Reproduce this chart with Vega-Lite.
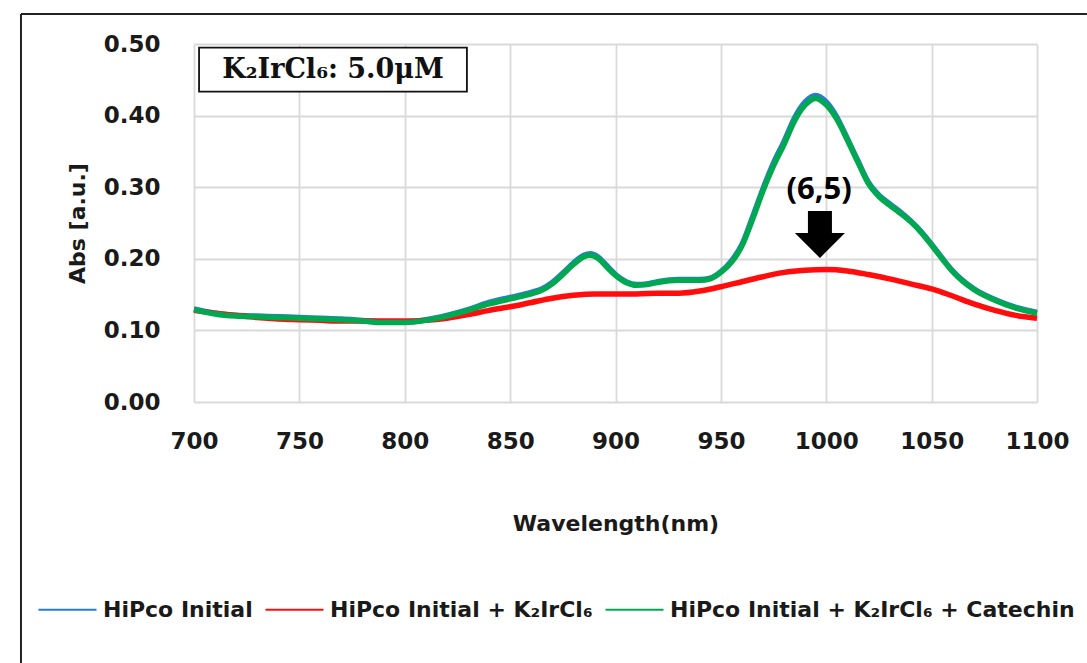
{
  "$schema": "https://vega.github.io/schema/vega-lite/v6.json",
  "width": 843,
  "height": 358,
  "autosize": "none",
  "padding": {"left": 194, "top": 44, "right": 50, "bottom": 261},
  "background": "white",
  "config": {
    "view": {"stroke": null},
    "axis": {
      "labelFont": "DejaVu Sans", "labelFontWeight": "bold", "labelFontSize": 23, "labelColor": "#1a1a1a",
      "titleFont": "DejaVu Sans", "titleFontWeight": "bold", "titleFontSize": 22, "titleColor": "#1a1a1a",
      "grid": true, "gridColor": "#d9d9d9", "gridWidth": 1.8, "domain": false, "ticks": false
    }
  },
  "encoding": {
    "x": {"type": "quantitative",
          "scale": {"domain": [700, 1100], "nice": false, "zero": false},
          "axis": {"values": [700, 750, 800, 850, 900, 950, 1000, 1050, 1100], "format": "d", "title": "Wavelength(nm)", "labelPadding": 28, "titlePadding": 60, "labelFlush": false, "grid": true}},
    "y": {"type": "quantitative",
          "scale": {"domain": [0, 0.5], "nice": false, "zero": false},
          "axis": {"values": [0, 0.1, 0.2, 0.3, 0.4, 0.5], "format": ".2f", "title": "Abs [a.u.]", "labelPadding": 34, "titlePadding": 14, "labelFlush": false, "grid": true}}
  },
  "layer": [
    {
      "data": {"values": [
        {"wl":700,"abs":0.130,"series":"HiPco Initial"},{"wl":710,"abs":0.124,"series":"HiPco Initial"},{"wl":720,"abs":0.121,"series":"HiPco Initial"},{"wl":730,"abs":0.120,"series":"HiPco Initial"},{"wl":740,"abs":0.119,"series":"HiPco Initial"},{"wl":750,"abs":0.118,"series":"HiPco Initial"},{"wl":760,"abs":0.117,"series":"HiPco Initial"},{"wl":770,"abs":0.116,"series":"HiPco Initial"},{"wl":780,"abs":0.114,"series":"HiPco Initial"},{"wl":790,"abs":0.112,"series":"HiPco Initial"},{"wl":800,"abs":0.112,"series":"HiPco Initial"},{"wl":810,"abs":0.115,"series":"HiPco Initial"},{"wl":820,"abs":0.121,"series":"HiPco Initial"},{"wl":830,"abs":0.129,"series":"HiPco Initial"},{"wl":840,"abs":0.139,"series":"HiPco Initial"},{"wl":850,"abs":0.146,"series":"HiPco Initial"},{"wl":860,"abs":0.153,"series":"HiPco Initial"},{"wl":865,"abs":0.158,"series":"HiPco Initial"},{"wl":870,"abs":0.167,"series":"HiPco Initial"},{"wl":875,"abs":0.180,"series":"HiPco Initial"},{"wl":880,"abs":0.194,"series":"HiPco Initial"},{"wl":885,"abs":0.205,"series":"HiPco Initial"},{"wl":888,"abs":0.207,"series":"HiPco Initial"},{"wl":892,"abs":0.202,"series":"HiPco Initial"},{"wl":896,"abs":0.190,"series":"HiPco Initial"},{"wl":900,"abs":0.178,"series":"HiPco Initial"},{"wl":905,"abs":0.168,"series":"HiPco Initial"},{"wl":910,"abs":0.164,"series":"HiPco Initial"},{"wl":915,"abs":0.165,"series":"HiPco Initial"},{"wl":920,"abs":0.168,"series":"HiPco Initial"},{"wl":930,"abs":0.171,"series":"HiPco Initial"},{"wl":940,"abs":0.171,"series":"HiPco Initial"},{"wl":945,"abs":0.173,"series":"HiPco Initial"},{"wl":950,"abs":0.182,"series":"HiPco Initial"},{"wl":955,"abs":0.197,"series":"HiPco Initial"},{"wl":960,"abs":0.220,"series":"HiPco Initial"},{"wl":965,"abs":0.258,"series":"HiPco Initial"},{"wl":970,"abs":0.298,"series":"HiPco Initial"},{"wl":975,"abs":0.334,"series":"HiPco Initial"},{"wl":980,"abs":0.364,"series":"HiPco Initial"},{"wl":985,"abs":0.397,"series":"HiPco Initial"},{"wl":990,"abs":0.419,"series":"HiPco Initial"},{"wl":995,"abs":0.428,"series":"HiPco Initial"},{"wl":1000,"abs":0.419,"series":"HiPco Initial"},{"wl":1005,"abs":0.398,"series":"HiPco Initial"},{"wl":1010,"abs":0.368,"series":"HiPco Initial"},{"wl":1015,"abs":0.337,"series":"HiPco Initial"},{"wl":1020,"abs":0.307,"series":"HiPco Initial"},{"wl":1025,"abs":0.289,"series":"HiPco Initial"},{"wl":1030,"abs":0.277,"series":"HiPco Initial"},{"wl":1035,"abs":0.266,"series":"HiPco Initial"},{"wl":1040,"abs":0.253,"series":"HiPco Initial"},{"wl":1045,"abs":0.238,"series":"HiPco Initial"},{"wl":1050,"abs":0.220,"series":"HiPco Initial"},{"wl":1055,"abs":0.201,"series":"HiPco Initial"},{"wl":1060,"abs":0.183,"series":"HiPco Initial"},{"wl":1070,"abs":0.158,"series":"HiPco Initial"},{"wl":1080,"abs":0.143,"series":"HiPco Initial"},{"wl":1090,"abs":0.132,"series":"HiPco Initial"},{"wl":1100,"abs":0.125,"series":"HiPco Initial"},

        {"wl":700,"abs":0.128,"series":"HiPco Initial + K₂IrCl₆"},{"wl":710,"abs":0.124,"series":"HiPco Initial + K₂IrCl₆"},{"wl":720,"abs":0.121,"series":"HiPco Initial + K₂IrCl₆"},{"wl":730,"abs":0.118,"series":"HiPco Initial + K₂IrCl₆"},{"wl":740,"abs":0.116,"series":"HiPco Initial + K₂IrCl₆"},{"wl":750,"abs":0.115,"series":"HiPco Initial + K₂IrCl₆"},{"wl":760,"abs":0.114,"series":"HiPco Initial + K₂IrCl₆"},{"wl":770,"abs":0.113,"series":"HiPco Initial + K₂IrCl₆"},{"wl":780,"abs":0.113,"series":"HiPco Initial + K₂IrCl₆"},{"wl":790,"abs":0.113,"series":"HiPco Initial + K₂IrCl₆"},{"wl":800,"abs":0.113,"series":"HiPco Initial + K₂IrCl₆"},{"wl":810,"abs":0.114,"series":"HiPco Initial + K₂IrCl₆"},{"wl":820,"abs":0.117,"series":"HiPco Initial + K₂IrCl₆"},{"wl":830,"abs":0.122,"series":"HiPco Initial + K₂IrCl₆"},{"wl":840,"abs":0.128,"series":"HiPco Initial + K₂IrCl₆"},{"wl":850,"abs":0.133,"series":"HiPco Initial + K₂IrCl₆"},{"wl":860,"abs":0.139,"series":"HiPco Initial + K₂IrCl₆"},{"wl":870,"abs":0.145,"series":"HiPco Initial + K₂IrCl₆"},{"wl":880,"abs":0.149,"series":"HiPco Initial + K₂IrCl₆"},{"wl":890,"abs":0.151,"series":"HiPco Initial + K₂IrCl₆"},{"wl":900,"abs":0.151,"series":"HiPco Initial + K₂IrCl₆"},{"wl":910,"abs":0.151,"series":"HiPco Initial + K₂IrCl₆"},{"wl":920,"abs":0.152,"series":"HiPco Initial + K₂IrCl₆"},{"wl":930,"abs":0.152,"series":"HiPco Initial + K₂IrCl₆"},{"wl":940,"abs":0.155,"series":"HiPco Initial + K₂IrCl₆"},{"wl":950,"abs":0.161,"series":"HiPco Initial + K₂IrCl₆"},{"wl":960,"abs":0.168,"series":"HiPco Initial + K₂IrCl₆"},{"wl":970,"abs":0.175,"series":"HiPco Initial + K₂IrCl₆"},{"wl":980,"abs":0.181,"series":"HiPco Initial + K₂IrCl₆"},{"wl":990,"abs":0.184,"series":"HiPco Initial + K₂IrCl₆"},{"wl":1000,"abs":0.185,"series":"HiPco Initial + K₂IrCl₆"},{"wl":1010,"abs":0.183,"series":"HiPco Initial + K₂IrCl₆"},{"wl":1020,"abs":0.178,"series":"HiPco Initial + K₂IrCl₆"},{"wl":1030,"abs":0.172,"series":"HiPco Initial + K₂IrCl₆"},{"wl":1040,"abs":0.165,"series":"HiPco Initial + K₂IrCl₆"},{"wl":1050,"abs":0.158,"series":"HiPco Initial + K₂IrCl₆"},{"wl":1060,"abs":0.148,"series":"HiPco Initial + K₂IrCl₆"},{"wl":1070,"abs":0.137,"series":"HiPco Initial + K₂IrCl₆"},{"wl":1080,"abs":0.128,"series":"HiPco Initial + K₂IrCl₆"},{"wl":1090,"abs":0.121,"series":"HiPco Initial + K₂IrCl₆"},{"wl":1100,"abs":0.117,"series":"HiPco Initial + K₂IrCl₆"},

        {"wl":700,"abs":0.129,"series":"HiPco Initial + K₂IrCl₆ + Catechin"},{"wl":710,"abs":0.123,"series":"HiPco Initial + K₂IrCl₆ + Catechin"},{"wl":720,"abs":0.120,"series":"HiPco Initial + K₂IrCl₆ + Catechin"},{"wl":730,"abs":0.119,"series":"HiPco Initial + K₂IrCl₆ + Catechin"},{"wl":740,"abs":0.118,"series":"HiPco Initial + K₂IrCl₆ + Catechin"},{"wl":750,"abs":0.117,"series":"HiPco Initial + K₂IrCl₆ + Catechin"},{"wl":760,"abs":0.116,"series":"HiPco Initial + K₂IrCl₆ + Catechin"},{"wl":770,"abs":0.115,"series":"HiPco Initial + K₂IrCl₆ + Catechin"},{"wl":780,"abs":0.113,"series":"HiPco Initial + K₂IrCl₆ + Catechin"},{"wl":790,"abs":0.111,"series":"HiPco Initial + K₂IrCl₆ + Catechin"},{"wl":800,"abs":0.111,"series":"HiPco Initial + K₂IrCl₆ + Catechin"},{"wl":810,"abs":0.114,"series":"HiPco Initial + K₂IrCl₆ + Catechin"},{"wl":820,"abs":0.120,"series":"HiPco Initial + K₂IrCl₆ + Catechin"},{"wl":830,"abs":0.128,"series":"HiPco Initial + K₂IrCl₆ + Catechin"},{"wl":840,"abs":0.137,"series":"HiPco Initial + K₂IrCl₆ + Catechin"},{"wl":850,"abs":0.144,"series":"HiPco Initial + K₂IrCl₆ + Catechin"},{"wl":860,"abs":0.151,"series":"HiPco Initial + K₂IrCl₆ + Catechin"},{"wl":865,"abs":0.156,"series":"HiPco Initial + K₂IrCl₆ + Catechin"},{"wl":870,"abs":0.165,"series":"HiPco Initial + K₂IrCl₆ + Catechin"},{"wl":875,"abs":0.178,"series":"HiPco Initial + K₂IrCl₆ + Catechin"},{"wl":880,"abs":0.192,"series":"HiPco Initial + K₂IrCl₆ + Catechin"},{"wl":885,"abs":0.203,"series":"HiPco Initial + K₂IrCl₆ + Catechin"},{"wl":888,"abs":0.205,"series":"HiPco Initial + K₂IrCl₆ + Catechin"},{"wl":892,"abs":0.200,"series":"HiPco Initial + K₂IrCl₆ + Catechin"},{"wl":896,"abs":0.188,"series":"HiPco Initial + K₂IrCl₆ + Catechin"},{"wl":900,"abs":0.177,"series":"HiPco Initial + K₂IrCl₆ + Catechin"},{"wl":905,"abs":0.167,"series":"HiPco Initial + K₂IrCl₆ + Catechin"},{"wl":910,"abs":0.163,"series":"HiPco Initial + K₂IrCl₆ + Catechin"},{"wl":915,"abs":0.164,"series":"HiPco Initial + K₂IrCl₆ + Catechin"},{"wl":920,"abs":0.167,"series":"HiPco Initial + K₂IrCl₆ + Catechin"},{"wl":930,"abs":0.170,"series":"HiPco Initial + K₂IrCl₆ + Catechin"},{"wl":940,"abs":0.170,"series":"HiPco Initial + K₂IrCl₆ + Catechin"},{"wl":945,"abs":0.172,"series":"HiPco Initial + K₂IrCl₆ + Catechin"},{"wl":950,"abs":0.181,"series":"HiPco Initial + K₂IrCl₆ + Catechin"},{"wl":955,"abs":0.195,"series":"HiPco Initial + K₂IrCl₆ + Catechin"},{"wl":960,"abs":0.218,"series":"HiPco Initial + K₂IrCl₆ + Catechin"},{"wl":965,"abs":0.255,"series":"HiPco Initial + K₂IrCl₆ + Catechin"},{"wl":970,"abs":0.295,"series":"HiPco Initial + K₂IrCl₆ + Catechin"},{"wl":975,"abs":0.330,"series":"HiPco Initial + K₂IrCl₆ + Catechin"},{"wl":980,"abs":0.360,"series":"HiPco Initial + K₂IrCl₆ + Catechin"},{"wl":985,"abs":0.393,"series":"HiPco Initial + K₂IrCl₆ + Catechin"},{"wl":990,"abs":0.415,"series":"HiPco Initial + K₂IrCl₆ + Catechin"},{"wl":995,"abs":0.424,"series":"HiPco Initial + K₂IrCl₆ + Catechin"},{"wl":1000,"abs":0.415,"series":"HiPco Initial + K₂IrCl₆ + Catechin"},{"wl":1005,"abs":0.395,"series":"HiPco Initial + K₂IrCl₆ + Catechin"},{"wl":1010,"abs":0.366,"series":"HiPco Initial + K₂IrCl₆ + Catechin"},{"wl":1015,"abs":0.335,"series":"HiPco Initial + K₂IrCl₆ + Catechin"},{"wl":1020,"abs":0.305,"series":"HiPco Initial + K₂IrCl₆ + Catechin"},{"wl":1025,"abs":0.287,"series":"HiPco Initial + K₂IrCl₆ + Catechin"},{"wl":1030,"abs":0.275,"series":"HiPco Initial + K₂IrCl₆ + Catechin"},{"wl":1035,"abs":0.264,"series":"HiPco Initial + K₂IrCl₆ + Catechin"},{"wl":1040,"abs":0.252,"series":"HiPco Initial + K₂IrCl₆ + Catechin"},{"wl":1045,"abs":0.237,"series":"HiPco Initial + K₂IrCl₆ + Catechin"},{"wl":1050,"abs":0.219,"series":"HiPco Initial + K₂IrCl₆ + Catechin"},{"wl":1055,"abs":0.200,"series":"HiPco Initial + K₂IrCl₆ + Catechin"},{"wl":1060,"abs":0.182,"series":"HiPco Initial + K₂IrCl₆ + Catechin"},{"wl":1070,"abs":0.157,"series":"HiPco Initial + K₂IrCl₆ + Catechin"},{"wl":1080,"abs":0.142,"series":"HiPco Initial + K₂IrCl₆ + Catechin"},{"wl":1090,"abs":0.131,"series":"HiPco Initial + K₂IrCl₆ + Catechin"},{"wl":1100,"abs":0.124,"series":"HiPco Initial + K₂IrCl₆ + Catechin"}
      ]},
      "mark": {"type": "line", "strokeWidth": 5.5, "interpolate": "monotone"},
      "encoding": {
        "x": {"field": "wl"},
        "y": {"field": "abs"},
        "color": {"field": "series", "type": "nominal",
                  "scale": {"domain": ["HiPco Initial", "HiPco Initial + K₂IrCl₆", "HiPco Initial + K₂IrCl₆ + Catechin"],
                            "range": ["#2a7bd0", "#ff0d0d", "#00a94f"]},
                  "legend": {"title": null, "orient": "none", "direction": "horizontal", "legendX": -157, "legendY": 535,
                             "symbolType": "stroke", "symbolSize": 3364, "symbolStrokeWidth": 2.2,
                             "labelFont": "DejaVu Sans", "labelFontWeight": "bold", "labelFontSize": 22, "labelColor": "#1a1a1a",
                             "labelLimit": 600, "labelOffset": 5, "columnPadding": 8, "padding": 0}}
      }
    },
    {
      "data": {"values": [{"label": "border"}]},
      "mark": {"type": "rule", "color": "#222222", "strokeWidth": 2},
      "encoding": {
        "x": {"datum": 617.9},
        "y": {"datum": 0.5419},
        "y2": {"datum": -0.3645}
      }
    },
    {
      "data": {"values": [{"label": "border"}]},
      "mark": {"type": "rule", "color": "#222222", "strokeWidth": 2},
      "encoding": {
        "x": {"datum": 617.9},
        "x2": {"datum": 1123.7},
        "y": {"datum": 0.5419}
      }
    },
    {
      "data": {"values": [{"label": "K₂IrCl₆: 5.0μM"}]},
      "mark": {"type": "rect", "fill": "white", "stroke": "#111111", "strokeWidth": 1.8},
      "encoding": {
        "x": {"datum": 702.4},
        "x2": {"datum": 829.5},
        "y": {"datum": 0.495},
        "y2": {"datum": 0.4336}
      }
    },
    {
      "data": {"values": [{"label": "K₂IrCl₆: 5.0μM"}]},
      "mark": {"type": "text", "font": "DejaVu Serif", "fontWeight": "bold", "fontSize": 27, "color": "#111111", "align": "center", "baseline": "middle"},
      "encoding": {
        "x": {"datum": 766},
        "y": {"datum": 0.464},
        "text": {"field": "label"}
      }
    },
    {
      "data": {"values": [{"label": "(6,5)"}]},
      "mark": {"type": "text", "font": "Open Sans", "fontWeight": "bold", "fontSize": 31, "color": "#000000", "align": "center", "baseline": "middle"},
      "encoding": {
        "x": {"datum": 996.6},
        "y": {"datum": 0.296},
        "text": {"field": "label"}
      }
    },
    {
      "data": {"values": [{"label": "arrow"}]},
      "mark": {"type": "point", "shape": "M -0.48 -0.94 L 0.48 -0.94 L 0.48 -0.06 L 1 -0.06 L 0 0.94 L -1 -0.06 L -0.48 -0.06 Z", "filled": true, "color": "#000000", "opacity": 1, "size": 2500, "strokeWidth": 0},
      "encoding": {
        "x": {"datum": 997},
        "y": {"datum": 0.234}
      }
    }
  ]
}
